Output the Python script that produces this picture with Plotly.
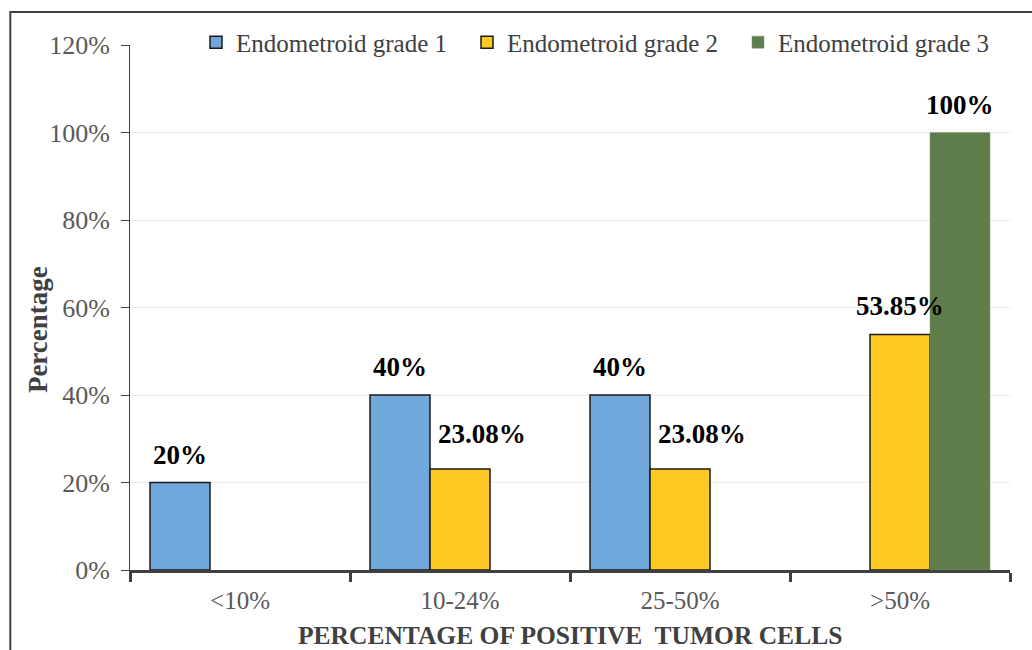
import plotly.graph_objects as go

# Categories on the x axis and the share of each grade (in %)
categories = ["<10%", "10-24%", "25-50%", ">50%"]
series_names = ["Endometroid grade 1", "Endometroid grade 2", "Endometroid grade 3"]
grade1 = [20, 40, 40, 0]
grade2 = [0, 23.08, 23.08, 53.85]
grade3 = [0, 0, 0, 100]
y_ticks = [0, 20, 40, 60, 80, 100, 120]

colors = ["#71A8DB", "#FFC924", "#5E7D4A"]
outline = ["#1A1A1A", "#1A1A1A", "#7F9A70"]
outline_w = [1.5, 1.5, 0.5]
# small nudges for a few value labels (pixels)
label_nudge = {(1, 1): 22, (1, 2): 22}
label_lift = {(1, 1): 18, (1, 2): 18}

SERIF = "Liberation Serif, Times New Roman, serif"
BARGAP = 40 / 220

fig = go.Figure()
all_series = [grade1, grade2, grade3]
for j, (name, vals) in enumerate(zip(series_names, all_series)):
    fig.add_trace(go.Bar(
        x=categories, y=[v if v else None for v in vals], name=name,
        marker=dict(color=colors[j], line=dict(color=outline[j], width=outline_w[j])),
        hoverinfo="x+y+name",
    ))

# value labels above each non-zero bar
bar_w = (1 - BARGAP) / len(all_series)
annotations = []
for j, vals in enumerate(all_series):
    for i, v in enumerate(vals):
        if v == 0:
            continue
        txt = f"{v:g}%"
        annotations.append(dict(
            x=i + (j - 1) * bar_w, y=v, xref="x", yref="y",
            text=f"<b>{txt}</b>", showarrow=False,
            yanchor="bottom", xanchor="center",
            yshift=label_lift.get((j, i), 11), xshift=label_nudge.get((j, i), 0),
            font=dict(family=SERIF, size=27, color="#000000"),
        ))

# axis titles
annotations.append(dict(
    x=-0.1045, y=0.457, xref="paper", yref="paper", text="<b>Percentage</b>",
    textangle=-90, showarrow=False, xanchor="center", yanchor="middle",
    font=dict(family=SERIF, size=27, color="#404040"),
))
annotations.append(dict(
    x=0.5, y=-0.124, xref="paper", yref="paper",
    text="<b>PERCENTAGE OF POSITIVE  TUMOR CELLS</b>",
    showarrow=False, xanchor="center", yanchor="middle",
    font=dict(family=SERIF, size=25.5, color="#404040"),
))

fig.update_layout(
    width=1032, height=650,
    margin=dict(l=130, r=22, t=45, b=80),
    paper_bgcolor="white", plot_bgcolor="white",
    barmode="group", bargap=BARGAP, bargroupgap=0,
    font=dict(family=SERIF, color="#595959"),
    annotations=annotations,
    showlegend=True,
    legend=dict(
        orientation="h", x=0.075, y=1.005, xanchor="left", yanchor="middle",
        font=dict(family=SERIF, size=25, color="#404040"),
        entrywidth=226, entrywidthmode="pixels",
        bgcolor="rgba(0,0,0,0)", itemclick=False, itemwidth=30,
    ),
    shapes=[dict(
        type="rect", xref="paper", yref="paper",
        x0=-0.136, x1=1.2, y0=-0.5, y1=1.063,
        line=dict(color="#404040", width=2), fillcolor="rgba(0,0,0,0)", layer="below",
    )],
)

fig.update_xaxes(
    type="category", tickson="boundaries",
    showline=True, linecolor="#404040", linewidth=3,
    ticks="outside", ticklen=9, tickwidth=3, tickcolor="#404040",
    tickfont=dict(family=SERIF, size=25, color="#595959"),
    ticklabelstandoff=6,
    showgrid=False, range=[-0.5, 3.5],
)
fig.update_yaxes(
    range=[0, 120], tickvals=y_ticks, ticktext=[f"{t}%" for t in y_ticks],
    showline=True, linecolor="#404040", linewidth=1,
    ticks="outside", ticklen=8, tickwidth=1, tickcolor="#404040",
    tickfont=dict(family=SERIF, size=26, color="#595959"),
    ticklabelstandoff=6,
    showgrid=True, gridcolor="#EBEBEB", gridwidth=1, zeroline=False,
)

fig.write_html("out.html")
